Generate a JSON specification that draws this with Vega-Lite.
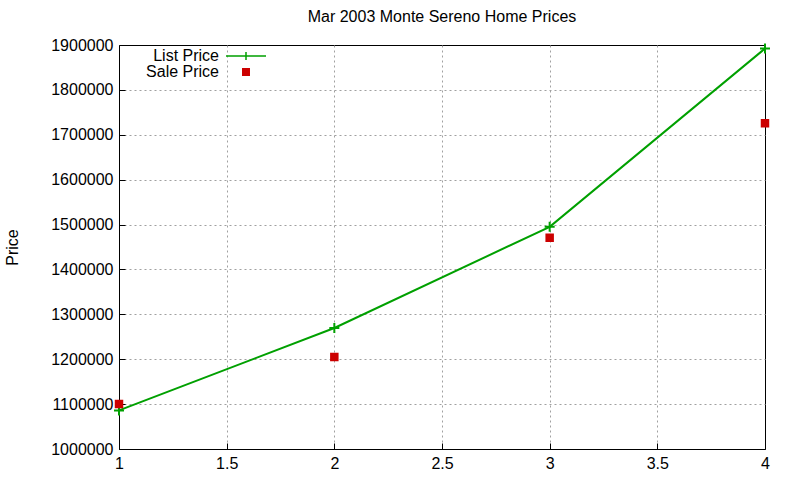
{
  "$schema": "https://vega.github.io/schema/vega-lite/v6.json",
  "autosize": "none",
  "width": 646,
  "height": 404,
  "padding": {"left": 119, "top": 45, "right": 35, "bottom": 31},
  "title": {"text": "Mar 2003 Monte Sereno Home Prices", "fontSize": 16, "fontWeight": "normal", "font": "Liberation Sans", "offset": 12, "color": "black"},
  "data": {
    "values": [
      {"x": 1, "price": 1086000, "series": "List Price"},
      {"x": 2, "price": 1269500, "series": "List Price"},
      {"x": 3, "price": 1495000, "series": "List Price"},
      {"x": 4, "price": 1892000, "series": "List Price"},
      {"x": 1, "price": 1100000, "series": "Sale Price"},
      {"x": 2, "price": 1205000, "series": "Sale Price"},
      {"x": 3, "price": 1470500, "series": "Sale Price"},
      {"x": 4, "price": 1725500, "series": "Sale Price"}
    ]
  },
  "encoding": {
    "x": {
      "field": "x", "type": "quantitative",
      "scale": {"domain": [1, 4], "nice": false, "zero": false},
      "axis": {
        "title": null, "values": [1, 1.5, 2, 2.5, 3, 3.5, 4], "format": "~g", "tickSize": -6, "labelPadding": 12, "labelFlush": false,
        "gridOpacity": {"condition": {"test": "datum.value === 4", "value": 0}, "value": 1}
      }
    },
    "y": {
      "field": "price", "type": "quantitative",
      "scale": {"domain": [1000000, 1900000], "nice": false, "zero": false},
      "axis": {
        "title": "Price", "values": [1000000, 1100000, 1200000, 1300000, 1400000, 1500000, 1600000, 1700000, 1800000, 1900000], "format": "d", "tickSize": -6, "labelPadding": 12, "titlePadding": 30,
        "gridOpacity": {"condition": {"test": "datum.value === 1900000", "value": 0}, "value": 1}
      }
    }
  },
  "layer": [
    {
      "transform": [{"filter": "datum.series === 'List Price'"}],
      "mark": {"type": "line", "color": "#00a000", "strokeWidth": 2}
    },
    {
      "transform": [{"filter": "datum.series === 'List Price'"}],
      "mark": {"type": "point", "shape": "M-1,0H1M0,-1V1", "filled": false, "color": "#00a000", "size": 100, "strokeWidth": 2, "opacity": 1}
    },
    {
      "transform": [{"filter": "datum.series === 'Sale Price'"}],
      "mark": {"type": "point", "filled": true, "strokeWidth": 2, "opacity": 1},
      "encoding": {
        "color": {
          "field": "series", "type": "nominal",
          "scale": {"domain": ["List Price", "Sale Price"], "range": ["#00a000", "#cc0000"]},
          "legend": {
            "title": null, "orient": "none", "legendX": 116, "legendY": 0,
            "labelAlign": "right", "labelOffset": -38, "labelFontSize": 16, "labelFont": "Liberation Sans", "labelColor": "black",
            "rowPadding": -4
          }
        },
        "stroke": {
          "field": "series", "type": "nominal",
          "scale": {"domain": ["List Price", "Sale Price"], "range": ["#00a000", "#cc0000"]}
        },
        "shape": {
          "field": "series", "type": "nominal",
          "scale": {"domain": ["List Price", "Sale Price"], "range": ["M-2,0H2M0,-0.4V0.4", "square"]}
        },
        "size": {
          "field": "series", "type": "nominal",
          "scale": {"domain": ["List Price", "Sale Price"], "range": [400, 42]}
        }
      }
    }
  ],
  "config": {
    "view": {"stroke": "black", "strokeWidth": 1},
    "axis": {
      "labelFont": "Liberation Sans", "labelFontSize": 16, "labelColor": "black",
      "titleFont": "Liberation Sans", "titleFontSize": 16, "titleFontWeight": "normal", "titleColor": "black",
      "domainColor": "black", "tickColor": "black",
      "grid": true, "gridColor": "#a0a0a0", "gridDash": [2, 3]
    }
  }
}
